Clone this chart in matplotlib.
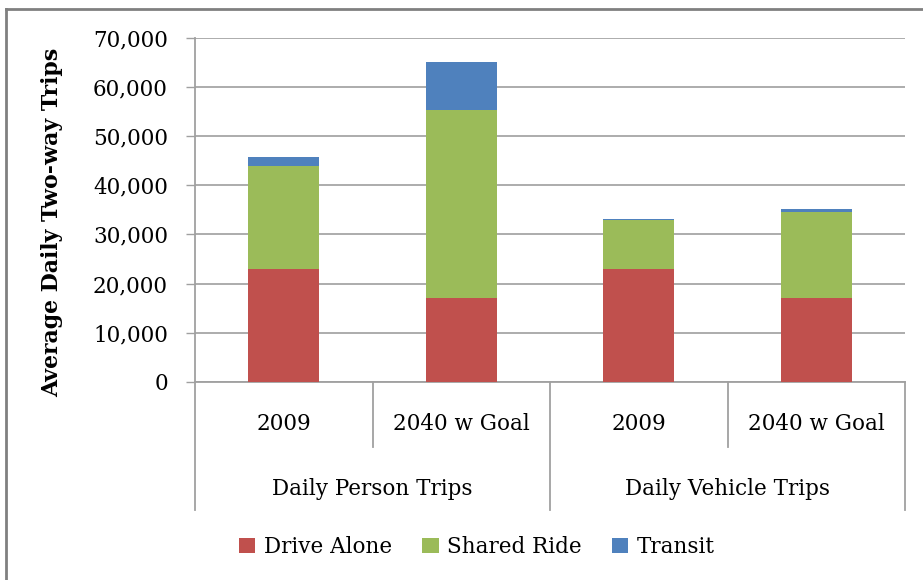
import matplotlib
matplotlib.use("Agg")
import matplotlib.pyplot as plt
import matplotlib.transforms as mtransforms
from matplotlib.lines import Line2D
from matplotlib.patches import Patch

# ---- data ----
bar_labels = ["2009", "2040 w Goal", "2009", "2040 w Goal"]
group_labels = ["Daily Person Trips", "Daily Vehicle Trips"]
series_names = ["Drive Alone", "Shared Ride", "Transit"]
drive_alone = [23050, 17100, 23050, 17100]
shared_ride = [20850, 38250, 9810, 17530]
transit = [1830, 9690, 270, 540]
yticks = [0, 10000, 20000, 30000, 40000, 50000, 60000, 70000]
ylabel = "Average Daily Two-way Trips"

colors = ["#C0504D", "#9BBB59", "#4F81BD"]
font = "DejaVu Serif"
fs = 15.5

fig = plt.figure(figsize=(9.23, 5.8), dpi=100)
ax = fig.add_axes([195/923, 1-382/580, 710/923, (382-37.5)/580])

x = list(range(len(bar_labels)))
w = 0.4
ax.bar(x, drive_alone, width=w, color=colors[0], zorder=3, label=series_names[0])
bottom2 = drive_alone
ax.bar(x, shared_ride, width=w, bottom=bottom2, color=colors[1], zorder=3, label=series_names[1])
bottom3 = [a + b for a, b in zip(drive_alone, shared_ride)]
ax.bar(x, transit, width=w, bottom=bottom3, color=colors[2], zorder=3, label=series_names[2])

ax.set_xlim(-0.5, len(bar_labels) - 0.5)
ax.set_ylim(0, 70000)
ax.set_yticks(yticks)
ax.set_yticklabels([f"{v:,}" for v in yticks], fontfamily=font, fontsize=fs)
ax.tick_params(axis="y", direction="out", length=6.5, width=1, color="#a0a0a0", pad=13)
ax.set_xticks([])
ax.grid(axis="y", color="#a6a6a6", linewidth=1.3, zorder=0)
for s in ["top", "right"]:
    ax.spines[s].set_visible(False)
for s in ["left", "bottom"]:
    ax.spines[s].set_color("#a0a0a0")
    ax.spines[s].set_linewidth(1.3)

trans = mtransforms.blended_transform_factory(ax.transData, ax.transAxes)
axh = 382 - 37.5
y_bar = (382 - 424) / axh
y_grp = (382 - 489) / axh
y_inner = (382 - 447) / axh
y_outer = (382 - 510) / axh

for xi, lab in zip(x, bar_labels):
    ax.text(xi, y_bar, lab, transform=trans, ha="center", va="center",
            fontfamily=font, fontsize=fs)
for gi, lab in enumerate(group_labels):
    ax.text(gi * 2 + 0.5, y_grp, lab, transform=trans, ha="center", va="center",
            fontfamily=font, fontsize=fs)

for d in [-0.5, 0.5, 1.5, 2.5, 3.5]:
    yb = y_outer if d in (-0.5, 1.5, 3.5) else y_inner
    ax.add_line(Line2D([d, d], [0, yb], transform=trans, color="#a0a0a0",
                       linewidth=1.3, clip_on=False))

fig.text(52/923, 1 - 222/580, ylabel, rotation=90, ha="center", va="center",
         fontfamily=font, fontsize=15.8, fontweight="bold")

handles = [Patch(facecolor=c, edgecolor="none") for c in colors]
fig.legend(handles, series_names, loc="center", bbox_to_anchor=(477/923, 1 - 547/580),
           ncol=3, frameon=False, prop={"family": font, "size": fs},
           handlelength=0.75, handleheight=0.75, handletextpad=0.4, columnspacing=1.4)

# outer border (left and top visible)
fig.add_artist(Line2D([6/923, 6/923], [0, 1 - 9/580], transform=fig.transFigure,
                      color="#808080", linewidth=2))
fig.add_artist(Line2D([6/923, 1], [1 - 9/580, 1 - 9/580], transform=fig.transFigure,
                      color="#808080", linewidth=2))

fig.savefig("out.png", dpi=100)
